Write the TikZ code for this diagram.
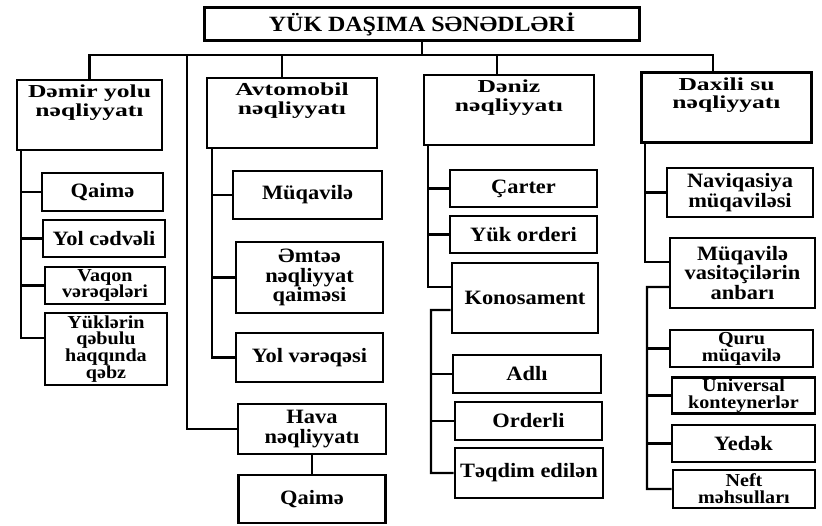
\documentclass[tikz,border=0pt]{standalone}
\usepackage{fontspec}
\setmainfont{Liberation Serif}
\newfontfamily\boxfont[FakeStretch=1.1]{Liberation Serif}
\newfontfamily\headfont[FakeStretch=1.4]{Liberation Serif}

\begin{document}
\begin{tikzpicture}[x=0.025cm, y=-0.025cm,
  title/.style={draw, line width=1.8pt, minimum width=10.875cm, minimum height=0.825cm, font=\boxfont\bfseries\fontsize{15.5}{16}\selectfont},
  group/.style={draw, line width=1.8pt, minimum width=4.25cm, minimum height=1.75cm, align=center, inner sep=2pt, text depth=0.72cm, font=\headfont\bfseries\fontsize{13}{13}\selectfont},
  doc/.style={draw, line width=1.8pt, minimum width=3.65cm, align=center, inner sep=1pt, font=\boxfont\bfseries\fontsize{14.5}{14}\selectfont},
  small/.style={font=\boxfont\bfseries\fontsize{13}{12}\selectfont},
  link/.style={line width=1.6pt}
]
\useasboundingbox (0,0) rectangle (822,526);

\node[title] (title) at (422,24) {YÜK DAŞIMA SƏNƏDLƏRİ};

\node[group, minimum width=3.625cm] (dem) at (89.5,115) {Dəmir yolu\\nəqliyyatı};
\node[group] (avt) at (292,113) {Avtomobil\\nəqliyyatı};
\node[group] (den) at (509,110) {Dəniz\\nəqliyyatı};
\node[group] (dax) at (726.5,107.5) {Daxili su\\nəqliyyatı};

\node[doc, minimum width=3.03cm, minimum height=0.95cm] (d1) at (102.5,192) {Qaimə};
\node[doc, minimum width=3.05cm, minimum height=0.93cm] (d2) at (104,238.5) {Yol cədvəli};
\node[doc, small, minimum width=3cm, minimum height=0.93cm] (d3) at (105,285.5) {Vaqon\\vərəqələri};
\node[doc, small, minimum width=3.05cm, minimum height=1.8cm] (d4) at (106,349) {Yüklərin\\qəbulu\\haqqında\\qəbz};

\node[doc, minimum width=3.72cm, minimum height=1.2cm] (a1) at (307.5,195) {Müqavilə};
\node[doc, minimum width=3.68cm, minimum height=1.78cm] (a2) at (309.5,277.5) {Əmtəə\\nəqliyyat\\qaiməsi};
\node[doc, minimum width=3.68cm, minimum height=1.22cm] (a3) at (309.5,357.5) {Yol vərəqəsi};
\node[doc, minimum width=3.7cm, minimum height=1.25cm] (hava) at (312,429) {Hava\\nəqliyyatı};
\node[doc, minimum width=3.68cm, minimum height=1.2cm] (q2) at (312,499) {Qaimə};

\node[doc, minimum width=3.68cm, minimum height=0.93cm] (n1) at (523.5,188.5) {Çarter};
\node[doc, minimum width=3.68cm, minimum height=0.93cm] (n2) at (523.5,234.5) {Yük orderi};
\node[doc, minimum width=3.65cm, minimum height=1.75cm] (n3) at (525,298) {Konosament};
\node[doc, minimum width=3.7cm, minimum height=0.95cm] (n4) at (527,374) {Adlı};
\node[doc, minimum width=3.68cm, minimum height=0.95cm] (n5) at (528.5,421) {Orderli};
\node[doc, minimum width=3.7cm, minimum height=1.25cm] (n6) at (529,473) {Təqdim edilən};

\node[doc, minimum width=3.65cm, minimum height=1.22cm] (w1) at (740,192.5) {Naviqasiya\\müqaviləsi};
\node[doc, minimum width=3.62cm, minimum height=1.75cm] (w2) at (742.5,273) {Müqavilə\\vasitəçilərin\\anbarı};
\node[doc, small, minimum width=3.58cm, minimum height=0.93cm] (w3) at (741.5,348.5) {Quru\\müqavilə};
\node[doc, small, minimum width=3.58cm, minimum height=0.88cm] (w4) at (743.5,395.5) {Universal\\konteynerlər};
\node[doc, minimum width=3.58cm, minimum height=0.93cm] (w5) at (743.5,443.5) {Yedək};
\node[doc, small, minimum width=3.55cm, minimum height=0.95cm] (w6) at (744,489) {Neft\\məhsulları};

\coordinate (bus) at (422,55);
\coordinate (havabus) at (187,55);
\draw[link] (title) -- (bus);
\draw[link] (bus) -| (dem);
\draw[link] (bus) -| ([xshift=-0.25cm]avt.north);
\draw[link] (bus) -| ([xshift=-0.3cm]den.north);
\draw[link] (bus) -| ([xshift=-0.33cm]dax.north);
\draw[link] (havabus) |- (hava);
\draw[link] (hava) -- (q2);

\coordinate (demsp) at (21,150);
\draw[link] (demsp) |- ([yshift=0.275cm]d4.west);
\draw[link] (demsp |- d1) -- (d1);
\draw[link] (demsp |- d2) -- (d2);
\draw[link] (demsp |- d3) -- (d3);

\coordinate (avtsp) at (212,148);
\draw[link] (avtsp) |- (a3);
\draw[link] (avtsp |- a1) -- (a1);
\draw[link] (avtsp |- a2) -- (a2);

\coordinate (densp) at (428,145);
\draw[link] (densp) |- ([yshift=0.275cm]n3.west);
\draw[link] (densp |- n1) -- (n1);
\draw[link] (densp |- n2) -- (n2);
\coordinate (konsp) at (431,310);
\draw[link] ([yshift=-0.3cm]n3.west) -- (konsp) |- (n6);
\draw[link] (konsp |- n4) -- (n4);
\draw[link] (konsp |- n5) -- (n5);

\coordinate (daxsp) at (645,143);
\draw[link] (daxsp) |- ([yshift=0.275cm]w2.west);
\draw[link] (daxsp |- w1) -- (w1);
\coordinate (anbsp) at (647,287);
\draw[link] ([yshift=-0.35cm]w2.west) -- (anbsp) |- (w6);
\draw[link] (anbsp |- w3) -- (w3);
\draw[link] (anbsp |- w4) -- (w4);
\draw[link] (anbsp |- w5) -- (w5);
\end{tikzpicture}
\end{document}
